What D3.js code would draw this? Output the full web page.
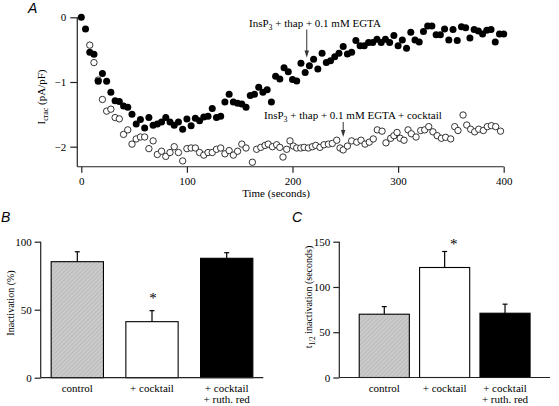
<!DOCTYPE html>
<html><head><meta charset="utf-8">
<script src="https://cdn.jsdelivr.net/npm/d3@7"></script>
<style>
html,body{margin:0;padding:0;background:#fff;}
svg{display:block;}
text{font-family:"Liberation Serif","Times New Roman","DejaVu Serif",serif;fill:#000;}
text.panel{font-family:"Liberation Sans",Arial,sans-serif;font-style:italic;font-size:14px;}
</style></head>
<body>
<svg id="c" width="559" height="406"></svg>
<script>
// ---------- Panel A data ----------
const filledTime = [0,4,8,12,16,20,24,28,32,36,40,44,48,52,56,60,64,68,72,76,80,84,88,92,96,100,104,108,112,116,120,124,128,132,136,140,144,148,152,156,160,164,168,172,176,180,184,188,192,196,200,204,208,212,216,220,224,228,232,236,240,244,248,252,256,260,264,268,272,276,280,284,288,292,296,300,304,308,312,316,320,324,328,332,336,340,344,348,352,356,360,364,368,372,376,380,384,388,392,396,400];
const filledValue = [0,-0.18,-0.54,-0.57,-0.99,-0.87,-0.99,-1.16,-1.29,-1.30,-1.37,-1.39,-1.50,-1.65,-1.58,-1.71,-1.55,-1.67,-1.65,-1.62,-1.55,-1.62,-1.67,-1.62,-1.73,-1.57,-1.675,-1.56,-1.60,-1.54,-1.53,-1.41,-1.55,-1.53,-1.31,-1.19,-1.31,-1.33,-1.34,-1.39,-1.21,-1.19,-1.08,-1.16,-1.12,-1.31,-0.91,-0.955,-0.78,-0.84,-0.96,-0.985,-0.71,-0.855,-0.75,-0.65,-0.80,-0.556,-0.70,-0.67,-0.61,-0.556,-0.45,-0.567,-0.54,-0.36,-0.44,-0.44,-0.39,-0.39,-0.34,-0.39,-0.34,-0.39,-0.28,-0.44,-0.35,-0.48,-0.23,-0.35,-0.38,-0.22,-0.135,-0.135,-0.27,-0.27,-0.18,-0.35,-0.19,-0.36,-0.145,-0.16,-0.32,-0.19,-0.21,-0.26,-0.20,-0.19,-0.38,-0.26,-0.26];
const openTime = [8,12,16,20,24,28,32,36,40,44,48,52,56,60,64,68,72,76,80,84,88,92,96,100,104,108,112,116,120,124,128,132,136,140,144,148,152,156,162,166,170,174,177,181,185,188,191,194.5,197.6,200.8,204,207.8,211,215,218.8,222,226,229.8,234,237.7,241.9,245,248,252,256,260.8,264.9,268.7,272.7,276.5,280.3,284.8,288.5,293,296,299,302,305.6,309.4,312.5,317,321.4,325.2,329,333,337,341,345,349.8,353.6,356.7,361.5,365,368.7,372.5,376.3,380.7,384.5,388.3,392.4,397];
const openValue = [-0.43,-0.70,-0.97,-1.27,-1.45,-1.42,-1.55,-1.57,-1.81,-1.74,-1.96,-1.88,-1.85,-1.85,-2.03,-1.91,-2.12,-2.07,-2.15,-2.09,-2.00,-2.09,-2.22,-2.03,-2.02,-2.02,-2.09,-2.13,-2.09,-2.09,-2.04,-2.02,-2.11,-2.06,-2.13,-2.07,-1.96,-2.02,-2.24,-2.04,-2.01,-1.98,-1.96,-2.00,-1.97,-2.01,-2.16,-2.04,-1.91,-1.99,-2.02,-2.02,-2.01,-2.02,-2.00,-1.98,-2.01,-1.97,-1.96,-1.95,-1.90,-2.02,-2.05,-1.99,-1.91,-1.93,-1.90,-1.96,-1.93,-1.88,-1.74,-1.76,-1.94,-1.87,-1.83,-1.78,-1.87,-1.90,-1.74,-1.80,-1.85,-1.75,-1.74,-1.69,-1.77,-1.83,-1.87,-1.855,-1.88,-1.69,-1.75,-1.51,-1.665,-1.73,-1.77,-1.73,-1.75,-1.69,-1.675,-1.69,-1.76];
const timeTicks = [0,100,200,300,400];
const currentTicks = [0,-1,-2];
const arrowTimes = [213.5, 248];
const arrowValues = [-0.62, -1.85];

// ---------- Panels B / C data ----------
const barCategories = ["control","+ cocktail","+ cocktail\n+ ruth. red"];
const inactMean = [85.3, 41.2, 87.8];
const inactErr = [7.3, 8.1, 4.1];
const inactTicks = [0,50,100];
const halfMean = [69.9, 121.5, 71.0];
const halfErr = [8.4, 17.7, 10.0];
const halfTicks = [0,50,100,150];
const barFills = ["url(#hatch)","#ffffff","#000000"];

const SERIF = "Liberation Serif, Times New Roman, DejaVu Serif, serif";
const svg = d3.select("#c");
svg.append("rect").attr("width",559).attr("height",406).attr("fill","#fff");
const defs = svg.append("defs");
const pat = defs.append("pattern").attr("id","hatch").attr("patternUnits","userSpaceOnUse")
  .attr("width",3).attr("height",3).attr("patternTransform","rotate(45)");
pat.append("rect").attr("width",3).attr("height",3).attr("fill","#cbcbcb");
pat.append("line").attr("x1",0).attr("y1",0).attr("x2",0).attr("y2",3).attr("stroke","#a9a9a9").attr("stroke-width",1);

const axisColor = "#222";

function subText(g, parts, attrs){
  const t = g.append("text").attr("font-family",SERIF).attr("fill","#000");
  Object.entries(attrs).forEach(([k,v])=>t.attr(k,v));
  let shift = 0;
  parts.forEach(p=>{
    if (p.sub){
      t.append("tspan").attr("font-size","0.72em").attr("dy", p.dy).text(p.sub);
      shift = p.dy;
    } else {
      const ts = t.append("tspan").text(p.t);
      if (shift) { ts.attr("dy", -shift); shift = 0; }
    }
  });
  return t;
}
function styleTicks(sel){
  sel.select(".domain").remove();
  sel.attr("font-family",SERIF);
  sel.selectAll("line").attr("stroke",axisColor).attr("stroke-width",1.2);
  sel.selectAll("text").attr("font-family",SERIF).attr("font-size",11).attr("fill","#000");
}

// ================= Panel A =================
const xA = d3.scaleLinear().domain([0,400]).range([81.3,503.7]);
const yA = d3.scaleLinear().domain([0,-2]).range([17.3,146.7]);
const gA = svg.append("g");

gA.append("line").attr("x1",xA(-3.8)).attr("x2",xA(-3.8)).attr("y1",yA(0)).attr("y2",yA(-2.31))
  .attr("stroke",axisColor).attr("stroke-width",1.2);
gA.append("line").attr("x1",xA(-3.8)).attr("x2",xA(400)).attr("y1",yA(-2.31)).attr("y2",yA(-2.31))
  .attr("stroke",axisColor).attr("stroke-width",1.2);
const gxA = gA.append("g").attr("transform",`translate(0,${yA(-2.31)})`)
  .call(d3.axisBottom(xA).tickValues(timeTicks).tickSize(6).tickPadding(4).tickFormat(d3.format("d")));
styleTicks(gxA);
const gyA = gA.append("g").attr("transform",`translate(${xA(-3.8)},0)`)
  .call(d3.axisLeft(yA).tickValues(currentTicks).tickSize(7).tickPadding(4).tickFormat(d3.format("d")));
styleTicks(gyA);

gA.append("g").selectAll("circle").data(openTime).join("circle")
  .attr("cx",(d)=>xA(d)).attr("cy",(d,i)=>yA(openValue[i])).attr("r",3.2)
  .attr("fill","#fff").attr("stroke","#111").attr("stroke-width",0.85);
gA.append("g").selectAll("circle").data(filledTime).join("circle")
  .attr("cx",(d)=>xA(d)).attr("cy",(d,i)=>yA(filledValue[i])).attr("r",3.5)
  .attr("fill","#000");

gA.append("text").attr("x",276).attr("y",197).attr("text-anchor","middle").attr("font-size",11)
  .attr("font-family",SERIF).text("Time (seconds)");
subText(gA,[{t:"I"},{sub:"crac",dy:2.5},{t:" (pA/pF)"}],
  {"transform":"translate(45,97) rotate(-90)","text-anchor":"middle","font-size":11});

subText(gA,[{t:"InsP"},{sub:"3",dy:2.5},{t:" + thap + 0.1 mM EGTA"}],{x:249,y:27,"font-size":11});
subText(gA,[{t:"InsP"},{sub:"3",dy:2.5},{t:" + thap + 0.1 mM EGTA + cocktail"}],{x:264,y:119,"font-size":11});
const arrowTops = [29.5, 122];
arrowTimes.forEach((t,i)=>{
  const x = xA(t), yTip = yA(arrowValues[i]) , yTop = arrowTops[i];
  gA.append("line").attr("x1",x).attr("x2",x).attr("y1",yTop).attr("y2",yTip-5).attr("stroke","#333").attr("stroke-width",1);
  gA.append("path").attr("d",`M${x-2.2},${yTip-7} L${x+2.2},${yTip-7} L${x},${yTip} Z`).attr("fill","#333");
});
svg.append("text").attr("class","panel").attr("x",28).attr("y",13).text("A");

// ================= Bar panels =================
function barPanel(opt){
  const g = svg.append("g");
  const x = d3.scaleBand().domain(barCategories).range(opt.xr).paddingInner(opt.pin).paddingOuter(opt.pout);
  const y = d3.scaleLinear().domain([0,opt.ymax]).range(opt.yr);
  g.selectAll("rect.bar").data(barCategories).join("rect").attr("class","bar")
    .attr("x",d=>x(d)).attr("width",x.bandwidth())
    .attr("y",(d,i)=>y(opt.mean[i])).attr("height",(d,i)=>y(0)-y(opt.mean[i]))
    .attr("fill",(d,i)=>barFills[i]).attr("stroke","#000").attr("stroke-width",1.1);
  barCategories.forEach((c,i)=>{
    const cx = x(c)+x.bandwidth()/2;
    g.append("line").attr("x1",cx).attr("x2",cx).attr("y1",y(opt.mean[i])).attr("y2",y(opt.mean[i]+opt.err[i]))
      .attr("stroke","#000").attr("stroke-width",1.2);
    g.append("line").attr("x1",cx-2.5).attr("x2",cx+2.5).attr("y1",y(opt.mean[i]+opt.err[i])).attr("y2",y(opt.mean[i]+opt.err[i]))
      .attr("stroke","#000").attr("stroke-width",1.2);
  });
  g.append("line").attr("x1",opt.xr[0]).attr("x2",opt.xr[0]).attr("y1",y(0)).attr("y2",y(opt.ymax))
    .attr("stroke",axisColor).attr("stroke-width",1.2);
  g.append("line").attr("x1",opt.xr[0]).attr("x2",opt.xr[1]).attr("y1",y(0)).attr("y2",y(0))
    .attr("stroke",axisColor).attr("stroke-width",1.2);
  const gy = g.append("g").attr("transform",`translate(${opt.xr[0]},0)`)
    .call(d3.axisLeft(y).tickValues(opt.ticks).tickSize(6).tickPadding(3).tickFormat(d3.format("d")));
  styleTicks(gy);
  barCategories.forEach(c=>{
    const cx = x(c)+x.bandwidth()/2;
    c.split("\n").forEach((ln,j)=>{
      g.append("text").attr("x",cx).attr("y",y(0)+14+j*11).attr("text-anchor","middle")
        .attr("font-size",11).attr("font-family",SERIF).attr("fill","#000").text(ln);
    });
  });
  const ci = 1, cx = x(barCategories[ci])+x.bandwidth()/2+opt.starDx;
  g.append("text").attr("x",cx).attr("y",y(opt.mean[ci]+opt.err[ci])-opt.starGap).attr("text-anchor","middle")
    .attr("font-size",15).attr("font-family",SERIF).attr("fill","#000").text("*");
  return {g,x,y};
}

const B = barPanel({xr:[40.7,263.3], yr:[377.7,241.7], ymax:100, pin:0.3, pout:0.14,
  mean:inactMean, err:inactErr, ticks:inactTicks, starDx:1, starGap:8});
B.g.append("text").attr("transform","translate(14,303) rotate(-90)").attr("text-anchor","middle")
  .attr("font-size",10).attr("font-family",SERIF).attr("fill","#000").text("Inactivation (%)");
svg.append("text").attr("class","panel").attr("x",1).attr("y",222).text("B");

const C = barPanel({xr:[339.3,550], yr:[377.5,241.7], ymax:150, pin:0.17, pout:0.33,
  mean:halfMean, err:halfErr, ticks:halfTicks, starDx:9, starGap:2});
subText(C.g,[{t:"t"},{sub:"1/2",dy:2.5},{t:" inactivation (seconds)"}],
  {"transform":"translate(312,297) rotate(-90)","text-anchor":"middle","font-size":10});
svg.append("text").attr("class","panel").attr("x",292).attr("y",222).text("C");
</script>
</body></html>
